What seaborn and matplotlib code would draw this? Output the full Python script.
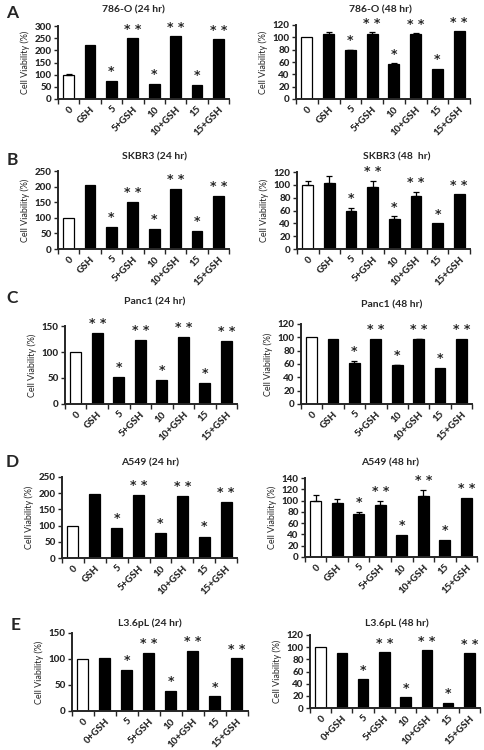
import numpy as np
import matplotlib.pyplot as plt
import seaborn as sns

# categories
labels = ["0", "GSH", "5", "5+GSH", "10", "10+GSH", "15", "15+GSH"]
labels_e = ["0", "0+GSH", "5", "5+GSH", "10", "10+GSH", "15", "15+GSH"]

# significance marks
stars = ["", "", "*", "* *", "*", "* *", "*", "* *"]
stars_panc24 = ["", "* *", "*", "* *", "*", "* *", "*", "* *"]

# cell viability (%) and error (+SD)
v_786_24 = [100, 222, 75, 250, 63, 257, 59, 246]
e_786_24 = [3, 0, 0, 0, 0, 0, 0, 0]
v_786_48 = [100, 105, 79, 105, 57, 106, 49, 110]
e_786_48 = [0, 3, 1, 3, 1, 1, 0, 0]

v_skbr3_24 = [100, 204, 72, 152, 63, 192, 57, 169]
e_skbr3_24 = [0, 0, 0, 0, 0, 0, 0, 0]
v_skbr3_48 = [100, 103, 60, 97, 47, 83, 40, 85]
e_skbr3_48 = [6, 10, 4, 9, 4, 6, 0, 0]

v_panc1_24 = [100, 136, 52, 124, 46, 129, 40, 122]
e_panc1_24 = [0, 0, 0, 0, 0, 0, 0, 0]
v_panc1_48 = [100, 98, 62, 98, 58, 97, 54, 98]
e_panc1_48 = [0, 0, 3, 0, 1, 1, 0, 0]

v_a549_24 = [100, 197, 92, 195, 78, 190, 66, 172]
e_a549_24 = [0, 0, 0, 0, 0, 0, 0, 0]
v_a549_48 = [100, 95, 76, 93, 39, 108, 30, 104]
e_a549_48 = [10, 8, 3, 7, 0, 10, 0, 0]

v_l36_24 = [100, 101, 79, 112, 39, 116, 28, 101]
e_l36_24 = [0, 0, 0, 0, 0, 0, 0, 0]
v_l36_48 = [100, 91, 47, 92, 18, 95, 9, 90]
e_l36_48 = [0, 0, 0, 0, 0, 0, 0, 0]

W, H = 485, 750

# title, cats, values, errors, stars, ymax, step, axes box (px: x0, top, x1, bottom), title pos (px)
panels = [
    ("786-O (24 hr)", labels, v_786_24, e_786_24, stars, 300, 50, (58, 26, 229, 99), (133, 10)),
    ("786-O (48 hr)", labels, v_786_48, e_786_48, stars, 120, 20, (296, 25, 470, 99), (380, 10)),
    ("SKBR3 (24 hr)", labels, v_skbr3_24, e_skbr3_24, stars, 250, 50, (58, 171, 229, 249), (155, 157)),
    ("SKBR3 (48  hr)", labels, v_skbr3_48, e_skbr3_48, stars, 120, 20, (297, 172, 470, 249), (397, 157)),
    ("Panc1 (24 hr)", labels, v_panc1_24, e_panc1_24, stars_panc24, 150, 50, (65, 326, 237, 404), (155, 302)),
    ("Panc1 (48 hr)", labels, v_panc1_48, e_panc1_48, stars, 120, 20, (301, 324, 472, 404), (392, 305)),
    ("A549 (24 hr)", labels, v_a549_24, e_a549_24, stars, 250, 50, (62, 477, 237, 558), (150, 463)),
    ("A549 (48 hr)", labels, v_a549_48, e_a549_48, stars, 140, 20, (305, 478, 477, 557), (390, 463)),
    ("L3.6pL (24 hr)", labels_e, v_l36_24, e_l36_24, stars, 150, 50, (72, 633, 248, 711), (150, 623)),
    ("L3.6pL (48 hr)", labels_e, v_l36_48, e_l36_48, stars, 120, 20, (310, 635, 480, 708), (397, 623)),
]

letters = [("A", 12, 13), ("B", 12, 160), ("C", 12, 298), ("D", 12, 462), ("E", 16, 625)]

sns.set_style("ticks")
plt.rcParams["font.family"] = ["Lato", "DejaVu Sans"]

fig = plt.figure(figsize=(W / 100, H / 100), dpi=100)


def draw(ax, title, cats, vals, errs, marks, ymax, step):
    colors = ["white"] + ["black"] * (len(cats) - 1)
    sns.barplot(x=cats, y=vals, hue=cats, order=cats, hue_order=cats,
                palette=colors, legend=False, width=0.5,
                edgecolor="black", linewidth=0.9, ax=ax)
    xs = np.arange(len(cats))
    errs = np.asarray(errs, dtype=float)
    vals = np.asarray(vals, dtype=float)
    m = errs > 0
    if m.any():
        ax.errorbar(xs[m], vals[m], yerr=[np.zeros(m.sum()), errs[m]], fmt="none",
                    ecolor="black", elinewidth=0.9, capsize=2, capthick=0.9)
    for x, v, e, s in zip(xs, vals, errs, marks):
        if s:
            ax.text(x, v + e + ymax * 0.12, s, ha="center", va="center",
                    fontsize=9, fontweight="bold", family="DejaVu Sans")
    ax.set_ylim(0, ymax)
    ax.set_xlim(-0.5, len(cats) - 0.5)
    ax.set_yticks(np.arange(0, ymax + 1, step))
    ax.set_xticks(xs)
    ax.set_xticklabels(cats, rotation=45, ha="right", rotation_mode="anchor")
    ax.set_xticks(np.arange(-0.5, len(cats), 1), minor=True)
    ax.tick_params(axis="x", which="major", length=0, pad=4, labelsize=7)
    ax.tick_params(axis="x", which="minor", length=3.5, width=1, direction="out")
    ax.tick_params(axis="y", length=3, width=1, pad=1.5, labelsize=7)
    for lab in ax.get_xticklabels() + ax.get_yticklabels():
        lab.set_fontweight("black")
    ax.set_ylabel("Cell Viability (%)", fontsize=6.5, labelpad=3)
    ax.set_xlabel("")
    sns.despine(ax=ax)
    for sp in ("left", "bottom"):
        ax.spines[sp].set_linewidth(1.4)


for title, cats, vals, errs, marks, ymax, step, box, tpos in panels:
    x0, top, x1, bottom = box
    ax = fig.add_axes([x0 / W, 1 - bottom / H, (x1 - x0) / W, (bottom - top) / H])
    draw(ax, title, cats, vals, errs, marks, ymax, step)
    fig.text(tpos[0] / W, 1 - tpos[1] / H, title, ha="center", va="center",
             fontsize=7.5, fontweight="bold")

for letter, lx, ly in letters:
    fig.text(lx / W, 1 - ly / H, letter, ha="center", va="center",
             fontsize=12.5, fontweight="bold")

fig.savefig("out.png", dpi=100)
